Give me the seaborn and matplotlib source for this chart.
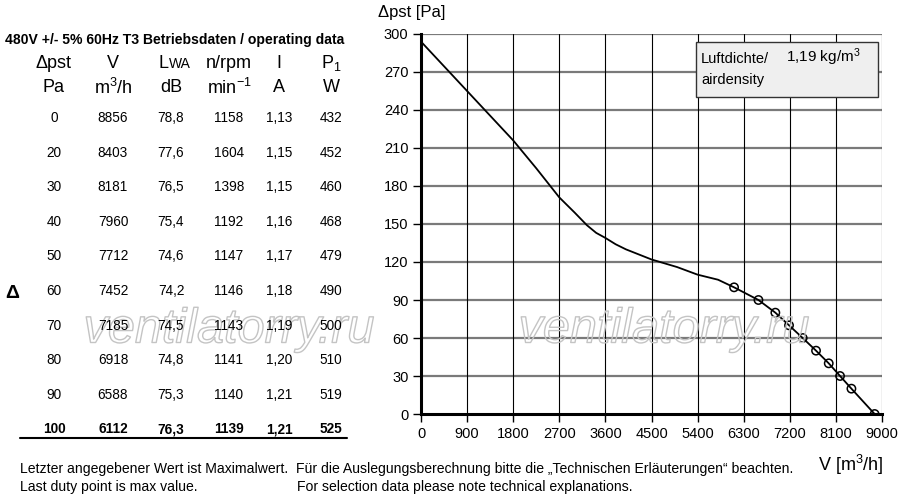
import matplotlib
matplotlib.use("Agg")
import matplotlib.pyplot as plt
import matplotlib.patheffects as pe
from matplotlib.patches import Rectangle
import seaborn as sns
import pandas as pd

# ---------------- data ----------------
dp = [0, 20, 30, 40, 50, 60, 70, 80, 90, 100]
flow = [8856, 8403, 8181, 7960, 7712, 7452, 7185, 6918, 6588, 6112]
lwa = ["78,8", "77,6", "76,5", "75,4", "74,6", "74,2", "74,5", "74,8", "75,3", "76,3"]
rpm = [1158, 1604, 1398, 1192, 1147, 1146, 1143, 1141, 1140, 1139]
current = ["1,13", "1,15", "1,15", "1,16", "1,17", "1,18", "1,19", "1,20", "1,21", "1,21"]
power = [432, 452, 460, 468, 479, 490, 500, 510, 519, 525]

# fan curve beyond the last duty point
curve_v = [0, 900, 1800, 2250, 2700, 3000, 3240, 3420, 3600, 3800, 4000, 4500, 5000, 5400, 5800]
curve_p = [294, 255, 216, 194, 171, 159, 149, 143, 139, 134, 130, 122, 116, 110, 106]

x_ticks = list(range(0, 9001, 900))
y_ticks = list(range(0, 301, 30))

# ---------------- style ----------------
sns.set_theme(style="white")
plt.rcParams["font.family"] = ["Liberation Sans", "DejaVu Sans"]
plt.rcParams["mathtext.fontset"] = "custom"
plt.rcParams["mathtext.rm"] = "Liberation Sans"
plt.rcParams["mathtext.it"] = "Liberation Sans"

W, H = 900, 500
fig = plt.figure(figsize=(9, 5), dpi=100)
fig.patch.set_facecolor("white")


def fx(x):
    return x / W


def fy(y):
    return 1 - y / H


def ftext(x, y, s, **kw):
    kw.setdefault("va", "center")
    kw.setdefault("ha", "center")
    kw.setdefault("color", "black")
    return fig.text(fx(x), fy(y), s, **kw)


# ---------------- chart ----------------
left, right, top, bottom = 421, 882, 34, 414
ax = fig.add_axes([fx(left), fy(bottom), (right - left) / W, (bottom - top) / H])

curve = pd.DataFrame({
    "V": curve_v + flow[::-1],
    "p": curve_p + dp[::-1],
})
duty = pd.DataFrame({"V": flow, "p": dp})

sns.lineplot(data=curve, x="V", y="p", ax=ax, color="black", lw=1.3,
             sort=False, estimator=None, zorder=5)
sns.scatterplot(data=duty, x="V", y="p", ax=ax, s=36, marker="o",
                facecolor="none", edgecolor="black", linewidth=1.1, zorder=6)

ax.set_xlim(0, 9000)
ax.set_ylim(0, 300)
ax.set_xticks(x_ticks)
ax.set_yticks(y_ticks)
ax.set_xlabel("")
ax.set_ylabel("")
for yv in y_ticks[1:]:
    ax.axhline(yv, color="#7a7a7a", lw=1.6, zorder=1)
for xv in x_ticks[1:]:
    ax.axvline(xv, color="black", lw=0.8, zorder=1)
ax.tick_params(axis="both", which="both", length=6, width=1, color="black",
               labelsize=10.5, labelcolor="black", direction="out",
               bottom=True, left=True, pad=3)
for s in ["top", "right"]:
    ax.spines[s].set_visible(False)
ax.spines["left"].set_color("black")
ax.spines["left"].set_linewidth(2.2)
ax.spines["bottom"].set_color("black")
ax.spines["bottom"].set_linewidth(2.2)
ax.set_facecolor("white")

# axis titles
ftext(378, 13, "\u0394pst [Pa]", ha="left", fontsize=12)
ftext(818, 465, "V [m$^3$/h]", ha="left", fontsize=13)

# air density box
fig.patches.append(Rectangle((fx(696), fy(97)), (878 - 696) / W, (97 - 42) / H,
                             transform=fig.transFigure, facecolor="#efefef",
                             edgecolor="#333333", lw=1.0, zorder=3))
ftext(701, 59, "Luftdichte/", ha="left", fontsize=10.5, zorder=4)
ftext(786, 57, "1,19 kg/m$^3$", ha="left", fontsize=11, zorder=4)
ftext(701, 80, "airdensity", ha="left", fontsize=10.5, zorder=4)

# ---------------- table ----------------
ftext(5, 40, "480V +/- 5% 60Hz T3 Betriebsdaten / operating data",
      ha="left", fontsize=10.1, fontweight="bold")

cols = [54, 113, 171, 229, 279, 331]
ftext(cols[0], 63, "\u0394pst", fontsize=13)
ftext(cols[1], 63, "V", fontsize=13)
ftext(cols[2] - 7, 63, "L", fontsize=13)
ftext(cols[2] - 2, 64, "WA", fontsize=10, ha="left")
ftext(cols[3], 63, "n/rpm", fontsize=13)
ftext(cols[4], 63, "I", fontsize=13)
ftext(cols[5], 63, "P$_1$", fontsize=13)

ftext(cols[0], 88, "Pa", fontsize=13)
ftext(cols[1], 88, "m$^3$/h", fontsize=13)
ftext(cols[2], 88, "dB", fontsize=13)
ftext(cols[3], 88, "min$^{-1}$", fontsize=13)
ftext(cols[4], 88, "A", fontsize=13)
ftext(cols[5], 88, "W", fontsize=13)

row_y0, row_step = 118, 34.6
for i in range(len(dp)):
    y = row_y0 + i * row_step
    fw = "bold" if i == len(dp) - 1 else "normal"
    vals = [str(dp[i]), str(flow[i]), lwa[i], str(rpm[i]), current[i], str(power[i])]
    for c, v in zip(cols, vals):
        ftext(c, y, v, fontsize=9.8, fontweight=fw)

fig.add_artist(plt.Line2D([fx(20), fx(347)], [fy(438), fy(438)],
                          transform=fig.transFigure, color="black", lw=1.5))
ftext(12, 293, "\u0394", fontsize=14, fontweight="bold")

# footer
ftext(20, 469, "Letzter angegebener Wert ist Maximalwert.  F\u00fcr die Auslegungsberechnung bitte die \u201eTechnischen Erl\u00e4uterungen\u201c beachten.",
      ha="left", fontsize=10.1)
ftext(20, 487, "Last duty point is max value.", ha="left", fontsize=10.1)
ftext(297, 487, "For selection data please note technical explanations.", ha="left", fontsize=10.1)

# watermark
for cx in [229, 664]:
    t = ftext(cx, 330, "ventilatorry.ru", fontsize=35, style="italic",
              color="none", zorder=0.5)
    t.set_path_effects([pe.Stroke(linewidth=1.0, foreground="#c4c4c4")])

fig.savefig("out.png", dpi=100, facecolor="white")
